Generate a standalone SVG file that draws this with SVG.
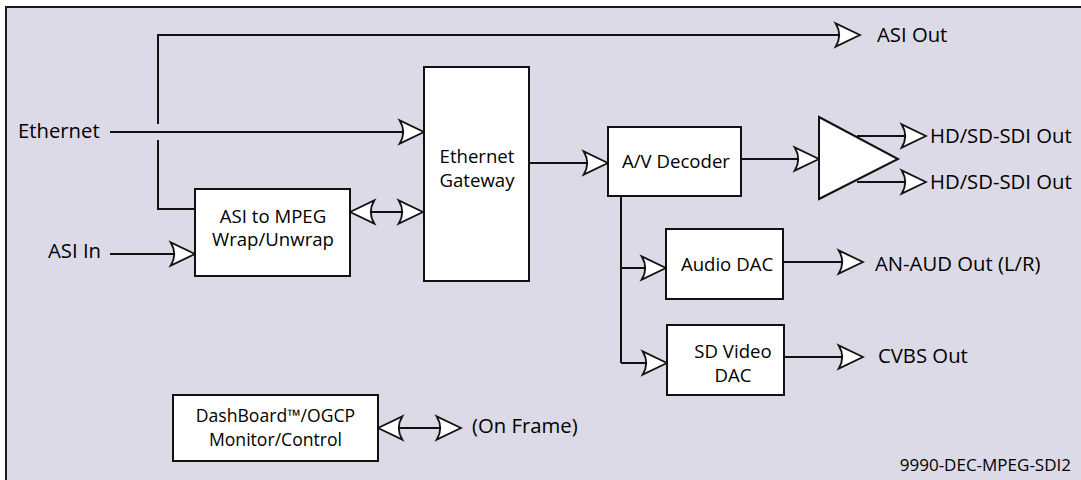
<svg xmlns="http://www.w3.org/2000/svg" width="1081" height="480" viewBox="0 0 1081 480">
<style>
.box{fill:#fff;stroke:#111;stroke-width:2}
.ln{fill:none;stroke:#111;stroke-width:2}
.arr{marker-end:url(#ah)}
.dbl{marker-start:url(#ah);marker-end:url(#ah)}
text{font-family:"Open Sans","Liberation Sans",sans-serif;fill:#000}
.in{font-size:18.6px;text-anchor:middle}
.sm{font-size:17.6px}
.out{font-size:20.3px}
.ft{font-size:17px;text-anchor:end}
</style>
<defs>
<marker id="ah" markerUnits="userSpaceOnUse" markerWidth="30" markerHeight="30" viewBox="-24 -12 26 24" refX="0" refY="0" orient="auto-start-reverse">
<path d="M0,0 L-21,-10 Q-15,0 -21,10 Z" fill="#fff" stroke="#111" stroke-width="1.6" stroke-linejoin="miter"/>
</marker>
</defs>
<rect x="6" y="7" width="1100" height="500" fill="#dcdae7" stroke="#1a1a1a" stroke-width="2"/>

<g id="connectors">
<path class="ln arr" d="M158,124 V35 H860"/>
<path class="ln" d="M158,140 V209 H195"/>
<path class="ln arr" d="M110,132 H424"/>
<path class="ln arr" d="M110,254 H195"/>
<path class="ln dbl" d="M350,212 H423"/>
<path class="ln arr" d="M529,163 H608"/>
<path class="ln arr" d="M741,159 H819"/>
<path class="ln arr" d="M857,136 H926"/>
<path class="ln arr" d="M857,182 H926"/>
<path class="ln" d="M621,196 V363"/>
<path class="ln arr" d="M621,268 H666"/>
<path class="ln arr" d="M621,363 H667"/>
<path class="ln arr" d="M783,262 H863"/>
<path class="ln arr" d="M784,357 H863"/>
<path class="ln dbl" d="M378,428 H461"/>
</g>

<g id="asi-mpeg">
<rect class="box" x="195" y="189" width="155" height="87"/>
<text class="in" x="273" y="223">ASI to MPEG</text>
<text class="in" x="273" y="246">Wrap/Unwrap</text>
</g>
<g id="gateway">
<rect class="box" x="424" y="67" width="105" height="214"/>
<text class="in" x="477" y="163">Ethernet</text>
<text class="in" x="477" y="187">Gateway</text>
</g>
<g id="decoder">
<rect class="box" x="608" y="127" width="133" height="69"/>
<text class="in" x="676" y="168">A/V Decoder</text>
</g>
<g id="amplifier">
<polygon points="819,117 898,159 819,199" fill="#fff" stroke="#111" stroke-width="2" stroke-linejoin="miter"/>
</g>
<g id="audio-dac">
<rect class="box" x="666" y="229" width="117" height="70"/>
<text class="in" x="727" y="271">Audio DAC</text>
</g>
<g id="video-dac">
<rect class="box" x="667" y="325" width="117" height="70"/>
<text class="in" x="733" y="358">SD Video</text>
<text class="in" x="733" y="382">DAC</text>
</g>
<g id="dashboard">
<rect class="box" x="173" y="395" width="205" height="66"/>
<text class="in sm" x="275.5" y="422">DashBoard™/OGCP</text>
<text class="in sm" x="275.5" y="446">Monitor/Control</text>
</g>

<g id="labels">
<text class="out" x="18" y="138">Ethernet</text>
<text class="out" x="48" y="258">ASI In</text>
<text class="out" x="877" y="42">ASI Out</text>
<text class="out" x="930" y="143">HD/SD-SDI Out</text>
<text class="out" x="930" y="189">HD/SD-SDI Out</text>
<text class="out" x="875" y="271">AN-AUD Out (L/R)</text>
<text class="out" x="878" y="363">CVBS Out</text>
<text class="out" x="472" y="433">(On Frame)</text>
<text class="ft" x="1071" y="471">9990-DEC-MPEG-SDI2</text>
</g>
</svg>
